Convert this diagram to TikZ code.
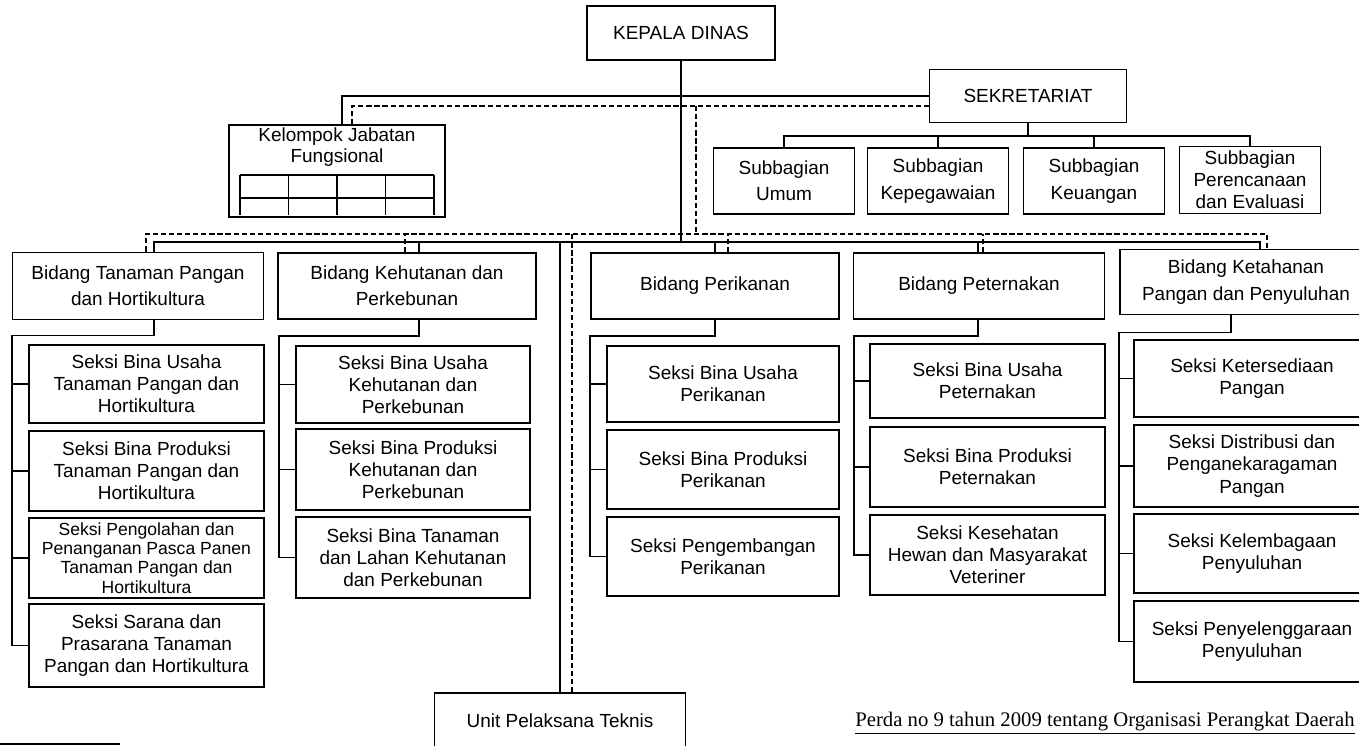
\documentclass[tikz,border=0pt]{standalone}
\usepackage{fontspec}
\setmainfont{Liberation Sans}
\newfontfamily\perdafont{Liberation Serif}
\usetikzlibrary{calc}

\newcommand{\hfs}{\fontsize{10.8}{15}\selectfont}
\newcommand{\fs}{\fontsize{10.8}{12.6}\selectfont}
\newcommand{\sfs}{\fontsize{10}{11}\selectfont}

\tikzset{
  box/.style={draw, line width=1.1pt, align=center, inner sep=1pt, font=\fs},
  conn/.style={line width=0.9pt},
  dconn/.style={line width=0.9pt, dash pattern=on 3pt off 1.6pt},
  sz/.style 2 args={minimum width=#1*0.02cm, minimum height=#2*0.02cm},
}

\begin{document}
\begin{tikzpicture}[x=0.02cm, y=-0.02cm]
  \clip (0,0) rectangle (1359,746);

  % Levels of the buses
  \coordinate (dtop) at (0,106);
  \coordinate (subbus) at (0,136);
  \coordinate (dbus) at (0,234);
  \coordinate (sbus) at (0,242);

  % Top
  \node[box, sz={188}{54}, font=\hfs] (kepala) at (681,33) {KEPALA DINAS};
  \node[box, sz={197}{53}, font=\hfs] (sekre) at (1028,96) {SEKRETARIAT};

  % Kelompok Jabatan Fungsional
  \node[box, sz={216}{92}] (kelompok) at (337,171) {};
  \node[font=\fontsize{10.8}{11.6}\selectfont, align=center] (kelteks) at (337,147) {Kelompok Jabatan\\Fungsional};
  \foreach \gx in {240,288.5,337,385.5,434}
    \draw[conn] (\gx,175) -- (\gx,215);
  \draw[conn] (240,175) -- (434,175) (240,198) -- (434,198);

  % Subbagian
  \node[box, sz={141}{66}, font=\hfs] (umum) at (784,181) {Subbagian\\Umum};
  \node[box, sz={141}{66}, font=\hfs] (kepeg) at (938,181) {Subbagian\\Kepegawaian};
  \node[box, sz={141}{66}, font=\hfs] (keu) at (1094,181) {Subbagian\\Keuangan};
  \node[box, sz={141}{67}] (renc) at (1250,180) {Subbagian\\Perencanaan\\dan Evaluasi};

  \draw[conn] (sekre.south) -- (sekre.south |- subbus);
  \draw[conn] (umum.north) |- (renc.north |- subbus) -- (renc.north);
  \draw[conn] (kepeg.north) -- (kepeg.north |- subbus);
  \draw[conn] (keu.north) -- (keu.north |- subbus);

  % Lines from the top
  \coordinate (kelS) at ($(kelompok.north)+(5,0)$);
  \coordinate (kelD) at ($(kelompok.north)+(15,0)$);
  \draw[conn] (kelS) |- (sekre.west);
  \draw[dconn] (kelD) |- (sekre.west |- dtop);
  \draw[conn] (kepala.south) -- (kepala.south |- sbus);
  \coordinate (kepD) at ($(kepala.south)+(15,0)$);
  \draw[dconn] (kepD |- dtop) -- (kepD |- dbus);

  % Bidang
  \node[box, sz={251}{67}, font=\hfs] (tanaman) at (138,286) {Bidang Tanaman Pangan\\dan Hortikultura};
  \node[box, sz={258}{66}, font=\hfs] (hutan) at (407,286) {Bidang Kehutanan dan\\Perkebunan};
  \node[box, sz={248}{66}, font=\hfs] (ikan) at (715,286) {Bidang Perikanan};
  \node[box, sz={251}{66}, font=\hfs] (ternak) at (979,286) {Bidang Peternakan};
  \node[box, sz={252}{65}, font=\hfs] (tahan) at (1246,282) {Bidang Ketahanan\\Pangan dan Penyuluhan};
  \node[box, sz={251}{56}, font=\hfs] (unit) at (560,721) {Unit Pelaksana Teknis};

  \coordinate (tanS) at ($(tanaman.north)+(16,0)$);
  \coordinate (tanD) at ($(tanaman.north)+(8,0)$);
  \coordinate (hutS) at ($(hutan.north)+(12,0)$);
  \coordinate (hutD) at ($(hutan.north)+(-2,0)$);
  \coordinate (ikanS) at (ikan.north);
  \coordinate (ikanD) at ($(ikan.north)+(13,0)$);
  \coordinate (ternS) at ($(ternak.north)+(-1,0)$);
  \coordinate (ternD) at ($(ternak.north)+(4,0)$);
  \coordinate (tahS) at ($(tahan.north)+(14,0)$);
  \coordinate (tahD) at ($(tahan.north)+(21,0)$);
  \coordinate (unitD) at ($(unit.north)+(12,0)$);

  \draw[conn] (tanS) |- (tahS |- sbus) -- (tahS);
  \draw[dconn] (tanD) |- (tahD |- dbus) -- (tahD);
  \foreach \c in {hutS,ikanS,ternS}
    \draw[conn] (\c) -- (\c |- sbus);
  \foreach \c in {hutD,ikanD,ternD}
    \draw[dconn] (\c) -- (\c |- dbus);
  \draw[conn] (unit.north) -- (unit.north |- sbus);
  \draw[dconn] (unitD) -- (unitD |- dbus);

  % Seksi, Bidang Tanaman Pangan dan Hortikultura
  \node[box, sz={235}{78}] (t1) at (146.5,384) {Seksi Bina Usaha\\Tanaman Pangan dan\\Hortikultura};
  \node[box, sz={235}{80}] (t2) at (146.5,471) {Seksi Bina Produksi\\Tanaman Pangan dan\\Hortikultura};
  \node[box, sz={235}{80}, font=\sfs] (t3) at (146.5,558) {Seksi Pengolahan dan\\Penanganan Pasca Panen\\Tanaman Pangan dan\\Hortikultura};
  \node[box, sz={235}{83}] (t4) at (146.5,645.5) {Seksi Sarana dan\\Prasarana Tanaman\\Pangan dan Hortikultura};
  \draw[conn] (tanS |- tanaman.south) -- ++(0,15) -| ($(t4.west)+(-16,0)$) -- (t4.west);
  \foreach \s in {t1,t2,t3}
    \draw[conn] (\s.west) -- ++(-16,0);

  % Seksi, Bidang Kehutanan dan Perkebunan
  \node[box, sz={234}{77}] (h1) at (413,384.5) {Seksi Bina Usaha\\Kehutanan dan\\Perkebunan};
  \node[box, sz={234}{81}] (h2) at (413,469.5) {Seksi Bina Produksi\\Kehutanan dan\\Perkebunan};
  \node[box, sz={234}{81}] (h3) at (413,557.5) {Seksi Bina Tanaman\\dan Lahan Kehutanan\\dan Perkebunan};
  \draw[conn] (hutS |- hutan.south) -- ++(0,16) -| ($(h3.west)+(-16,0)$) -- (h3.west);
  \foreach \s in {h1,h2}
    \draw[conn] (\s.west) -- ++(-16,0);

  % Seksi, Bidang Perikanan
  \node[box, sz={232}{76}] (i1) at (723,384) {Seksi Bina Usaha\\Perikanan};
  \node[box, sz={232}{79}] (i2) at (723,469.5) {Seksi Bina Produksi\\Perikanan};
  \node[box, sz={232}{79}] (i3) at (723,556.5) {Seksi Pengembangan\\Perikanan};
  \draw[conn] (ikanS |- ikan.south) -- ++(0,16) -| ($(i3.west)+(-16,0)$) -- (i3.west);
  \foreach \s in {i1,i2}
    \draw[conn] (\s.west) -- ++(-16,0);

  % Seksi, Bidang Peternakan
  \node[box, sz={235}{74}] (p1) at (987.5,381) {Seksi Bina Usaha\\Peternakan};
  \node[box, sz={235}{80}] (p2) at (987.5,467) {Seksi Bina Produksi\\Peternakan};
  \node[box, sz={235}{80}] (p3) at (987.5,555) {Seksi Kesehatan\\Hewan dan Masyarakat\\Veteriner};
  \draw[conn] (ternS |- ternak.south) -- ++(0,16) -| ($(p3.west)+(-15,0)$) -- (p3.west);
  \foreach \s in {p1,p2}
    \draw[conn] (\s.west) -- ++(-15,0);

  % Seksi, Bidang Ketahanan Pangan dan Penyuluhan
  \node[box, sz={236}{77}] (k1) at (1252,378.5) {Seksi Ketersediaan\\Pangan};
  \node[box, sz={236}{82}] (k2) at (1252,466) {Seksi Distribusi dan\\Penganekaragaman\\Pangan};
  \node[box, sz={236}{79}] (k3) at (1252,553.5) {Seksi Kelembagaan\\Penyuluhan};
  \node[box, sz={236}{81}] (k4) at (1252,641.5) {Seksi Penyelenggaraan\\Penyuluhan};
  \coordinate (tahB) at ($(tahan.south)+(-15,0)$);
  \draw[conn] (tahB) -- ++(0,17) -| ($(k4.west)+(-14,0)$) -- (k4.west);
  \foreach \s in {k1,k2,k3}
    \draw[conn] (\s.west) -- ++(-14,0);

  % Source
  \node[font=\perdafont\fontsize{11.8}{13}\selectfont, anchor=base] (perda) at (1105,726) {\underline{Perda no 9 tahun 2009 tentang Organisasi Perangkat Daerah}};
  \draw[line width=1.3pt] (0,744) -- (120,744);
\end{tikzpicture}
\end{document}
